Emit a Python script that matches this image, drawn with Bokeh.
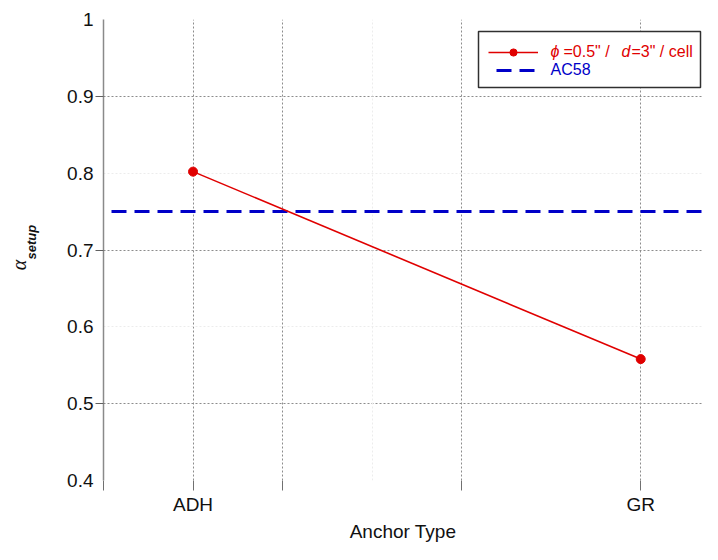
from bokeh.plotting import figure
from bokeh.models import (FixedTicker, Range1d, LinearAxis, Grid, Legend,
                          LegendItem, Label, BoxAnnotation)
from bokeh.core.properties import value
from bokeh.embed import file_html
from bokeh.resources import INLINE

# ---- data ----
anchors = ["ADH", "GR"]
anchor_pos = [1, 6]
alpha_setup = [0.802, 0.558]
ac58 = [0.75, 0.75]
y_ticks = [0.4, 0.5, 0.6, 0.7, 0.8, 0.9, 1.0]
y_tick_labels = ["0.4", "0.5", "0.6", "0.7", "0.8", "0.9", "1"]
x_ticks = [0, 1, 2, 4, 6]
x_faint = [3]
y_major_marks = [0.5, 0.7, 0.9]
y_faint = [0.6, 0.8]
X_START, X_END = 0, 6.69
Y_START, Y_END = 0.4, 1.0

RED = "#e00000"
BLUE = "#0000c8"
FONT = "Liberation Sans"
GRID = "#8c8c8c"
FAINT = "#ececec"
INK = "#111111"

p = figure(width=702, height=544, output_backend="svg", toolbar_location=None,
           x_range=Range1d(X_START, X_END), y_range=Range1d(Y_START, Y_END),
           min_border_left=103, min_border_right=0, min_border_top=19,
           min_border_bottom=55)
p.outline_line_color = None
p.background_fill_color = "white"

# x axis
xa = p.xaxis[0]
xa.ticker = FixedTicker(ticks=x_ticks)
xa.major_label_overrides = {t: "" for t in x_ticks}
xa.major_label_overrides.update(dict(zip(anchor_pos, anchors)))
xa.axis_line_color = None
xa.major_tick_line_color = "#707070"
xa.major_tick_out = 10
xa.major_tick_in = 0
xa.minor_tick_line_color = None
xa.major_label_standoff = 3
xa.major_label_text_font = FONT
xa.major_label_text_font_size = "19px"
xa.major_label_text_color = INK
xa.axis_label = "Anchor Type"
xa.axis_label_text_font = FONT
xa.axis_label_text_font_size = "19px"
xa.axis_label_text_font_style = "normal"
xa.axis_label_text_color = INK
xa.axis_label_standoff = 3

# y axis: tick-mark axis next to the frame
ya = p.yaxis[0]
ya.ticker = FixedTicker(ticks=y_major_marks)
ya.major_label_overrides = {t: "" for t in y_major_marks}
ya.major_tick_out = 8
ya.major_tick_in = 0
ya.major_tick_line_color = "#606060"
ya.minor_tick_line_color = None
ya.axis_line_color = "#8a8a8a"
ya.axis_line_width = 1.5
ya.major_label_standoff = 0

# y axis: tick labels + subscript part of the title
ya2 = LinearAxis(ticker=FixedTicker(ticks=y_ticks),
                 major_label_overrides=dict(zip(y_ticks, y_tick_labels)),
                 axis_line_color=None, major_tick_line_color=None,
                 minor_tick_line_color=None, major_tick_out=0, major_tick_in=0,
                 major_label_standoff=2, major_label_text_font=FONT,
                 major_label_text_font_size="19px",
                 major_label_text_color=INK,
                 axis_label="\u2003\u2009setup", axis_label_text_font=FONT,
                 axis_label_text_font_size="13px",
                 axis_label_text_font_style="bold italic",
                 axis_label_text_color=INK, axis_label_standoff=25)
p.add_layout(ya2, "left")

# y axis: main symbol of the title
ya3 = LinearAxis(ticker=FixedTicker(ticks=[]), axis_line_color=None,
                 major_tick_line_color=None, minor_tick_line_color=None,
                 major_tick_out=0, major_tick_in=0, major_label_standoff=0,
                 axis_label="\u03b1\u2003\u2002",
                 axis_label_text_font="Liberation Serif",
                 axis_label_text_font_size="20px",
                 axis_label_text_font_style="italic",
                 axis_label_text_color=INK, axis_label_standoff=-8)
p.add_layout(ya3, "left")

# grids
p.xgrid.ticker = FixedTicker(ticks=x_ticks)
p.xgrid.grid_line_color = GRID
p.xgrid.grid_line_dash = "2 2"
p.ygrid.ticker = FixedTicker(ticks=y_major_marks)
p.ygrid.grid_line_color = GRID
p.ygrid.grid_line_dash = "2 2"
p.add_layout(Grid(dimension=0, ticker=FixedTicker(ticks=x_faint),
                  grid_line_color=FAINT, grid_line_dash="2 2"))
p.add_layout(Grid(dimension=1, ticker=FixedTicker(ticks=y_faint),
                  grid_line_color=FAINT, grid_line_dash="2 2"))

# data
ac_line = p.line([X_START, X_END], ac58, line_color=BLUE, line_width=3,
                 line_dash="15 8", line_dash_offset=15)
red_line = p.line(anchor_pos, alpha_setup, line_color=RED, line_width=1.6)
red_pts = p.scatter(anchor_pos, alpha_setup, size=9, fill_color=RED,
                    line_color=RED)

FB = 481  # approx. pixel row of the frame's bottom edge
LEG_L, LEG_W, LEG_BOT, LEG_H = 375, 222, FB - 88, 56

# legend frame (white box) drawn under a transparent legend
p.add_layout(BoxAnnotation(left=LEG_L, right=LEG_L + LEG_W, bottom=LEG_BOT,
                           top=LEG_BOT + LEG_H, left_units="screen",
                           right_units="screen", bottom_units="screen",
                           top_units="screen", fill_color="white",
                           fill_alpha=1.0, line_color="#303030",
                           line_width=1.5, line_alpha=1.0))

legend = Legend(items=[LegendItem(label=value(" "), renderers=[red_line, red_pts]),
                       LegendItem(label=value(" "), renderers=[ac_line])],
                location=(LEG_L + 10, LEG_BOT + 8), padding=10, spacing=0,
                margin=0, glyph_width=50, glyph_height=18, label_height=18,
                label_width=120, label_standoff=12,
                border_line_color=None, background_fill_alpha=0.0,
                label_text_font_size="14px")
p.add_layout(legend)

def lab(text, x, y, color, style="normal", size="16px"):
    p.add_layout(Label(x=x, y=y, x_units="screen", y_units="screen",
                       text=text, text_color=color, text_font=FONT,
                       text_font_style=style, text_font_size=size,
                       text_align="left", text_baseline="middle",
                       level="overlay"))

# legend texts
lab("\u03d5", 447, FB - 52, RED, "italic")
lab("=0.5\" /", 460, FB - 52, RED)
lab("d", 518, FB - 52, RED, "italic")
lab("=3\" / cell", 528, FB - 52, RED)
lab("AC58", 447, FB - 70, BLUE)

open("out.html", "w").write(file_html(p, INLINE))
